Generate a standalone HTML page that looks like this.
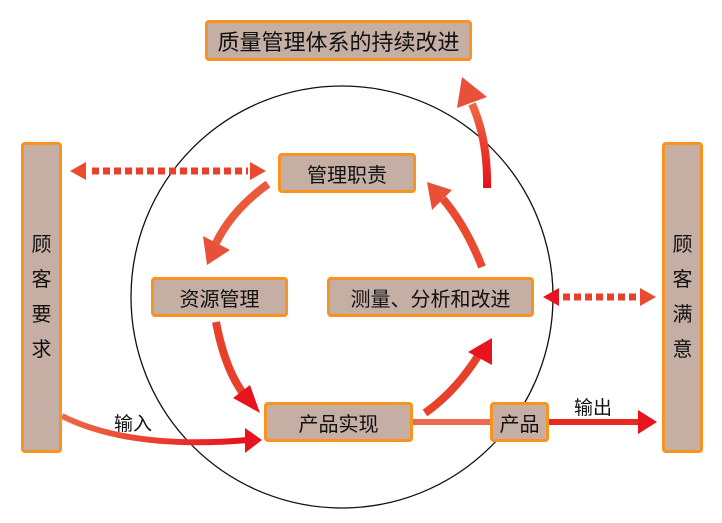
<!DOCTYPE html>
<html><head><meta charset="utf-8"><style>
body{margin:0;width:722px;height:523px;background:#fff;overflow:hidden;position:relative;font-family:"Liberation Sans","Noto Sans CJK SC",sans-serif;}
.b{position:absolute;box-sizing:border-box;background:#c5aea4;border:3px solid #f7931e;border-radius:4px;color:#111;display:flex;align-items:center;justify-content:center;font-size:20px;}
.v{flex-direction:column;line-height:35px;}
svg{position:absolute;left:0;top:0;}
.l{position:absolute;font-size:19px;color:#111;}
</style></head><body>
<svg width="722" height="523">
<defs>
<linearGradient id="g" x1="0" y1="1" x2="0" y2="0"><stop offset="0" stop-color="#e60f1a"/><stop offset="1" stop-color="#ee6a45"/></linearGradient>
<linearGradient id="gh" gradientUnits="userSpaceOnUse" x1="62" y1="0" x2="250" y2="0"><stop offset="0" stop-color="#ee6a45"/><stop offset="1" stop-color="#e60f1a"/></linearGradient>
</defs>
<circle cx="342" cy="297" r="211" fill="none" stroke="#111" stroke-width="1.3"/>
<g fill="none" stroke-width="8">
<path d="M268,184 Q232,210 216,243" stroke="#ea5a3a"/>
<path d="M216,322 Q225,370 245,396" stroke="#e8402a"/>
<path d="M425,413 Q455,392 478,356" stroke="#e8402a"/>
<path d="M482,267 Q466,226 443,199" stroke="#e94a30"/>
<path d="M487,188 Q488,140 472,104" stroke="url(#g)"/>
<path d="M62,416 Q130,450 248,440" stroke="url(#gh)" stroke-width="6"/>
<path d="M413,422 L490,422" stroke="#ec6a50" stroke-width="6"/>
<path d="M549,422 L640,422" stroke="#e62a22" stroke-width="6"/>
</g>
<g fill="#e9503a">
<polygon points="207,265 203,236 230,250"/>
<polygon points="260,413 233,398 250,385" fill="#e6141e"/>
<polygon points="492,338 468,352 492,365" fill="#e6141e"/>
<polygon points="427,182 432,210 452,190"/>
<polygon points="462,77 457,108 487,97"/>
<polygon points="262,440 245,428 245,453" fill="#e6141e"/>
<polygon points="657,422 638,410 638,434" fill="#e6141e"/>
</g>
<g stroke="#e8402a" stroke-width="7" stroke-dasharray="7,4" fill="none">
<path d="M92,171 L248,171"/>
<path d="M563,297 L639,297"/>
</g>
<g fill="#ea4a30">
<polygon points="70,171 86,162 86,180"/>
<polygon points="266,171 250,162 250,180"/>
<polygon points="543,297 559,288 559,306" fill="#e6141e"/>
<polygon points="656,297 640,288 640,306"/>
</g>
</svg>
<div class="b" style="left:205px;top:20px;width:267px;height:41px;font-size:22px;">质量管理体系的持续改进</div>
<div class="b v" style="left:21px;top:142px;width:41px;height:311px;">顾<br>客<br>要<br>求</div>
<div class="b v" style="left:662px;top:142px;width:41px;height:311px;">顾<br>客<br>满<br>意</div>
<div class="b" style="left:278px;top:153px;width:138px;height:40px;">管理职责</div>
<div class="b" style="left:151px;top:277px;width:137px;height:40px;">资源管理</div>
<div class="b" style="left:327px;top:277px;width:207px;height:40px;">测量、分析和改进</div>
<div class="b" style="left:264px;top:402px;width:149px;height:40px;">产品实现</div>
<div class="b" style="left:490px;top:402px;width:59px;height:40px;">产品</div>
<div class="l" style="left:114px;top:409px;">输入</div>
<div class="l" style="left:574px;top:393px;">输出</div>
</body></html>
